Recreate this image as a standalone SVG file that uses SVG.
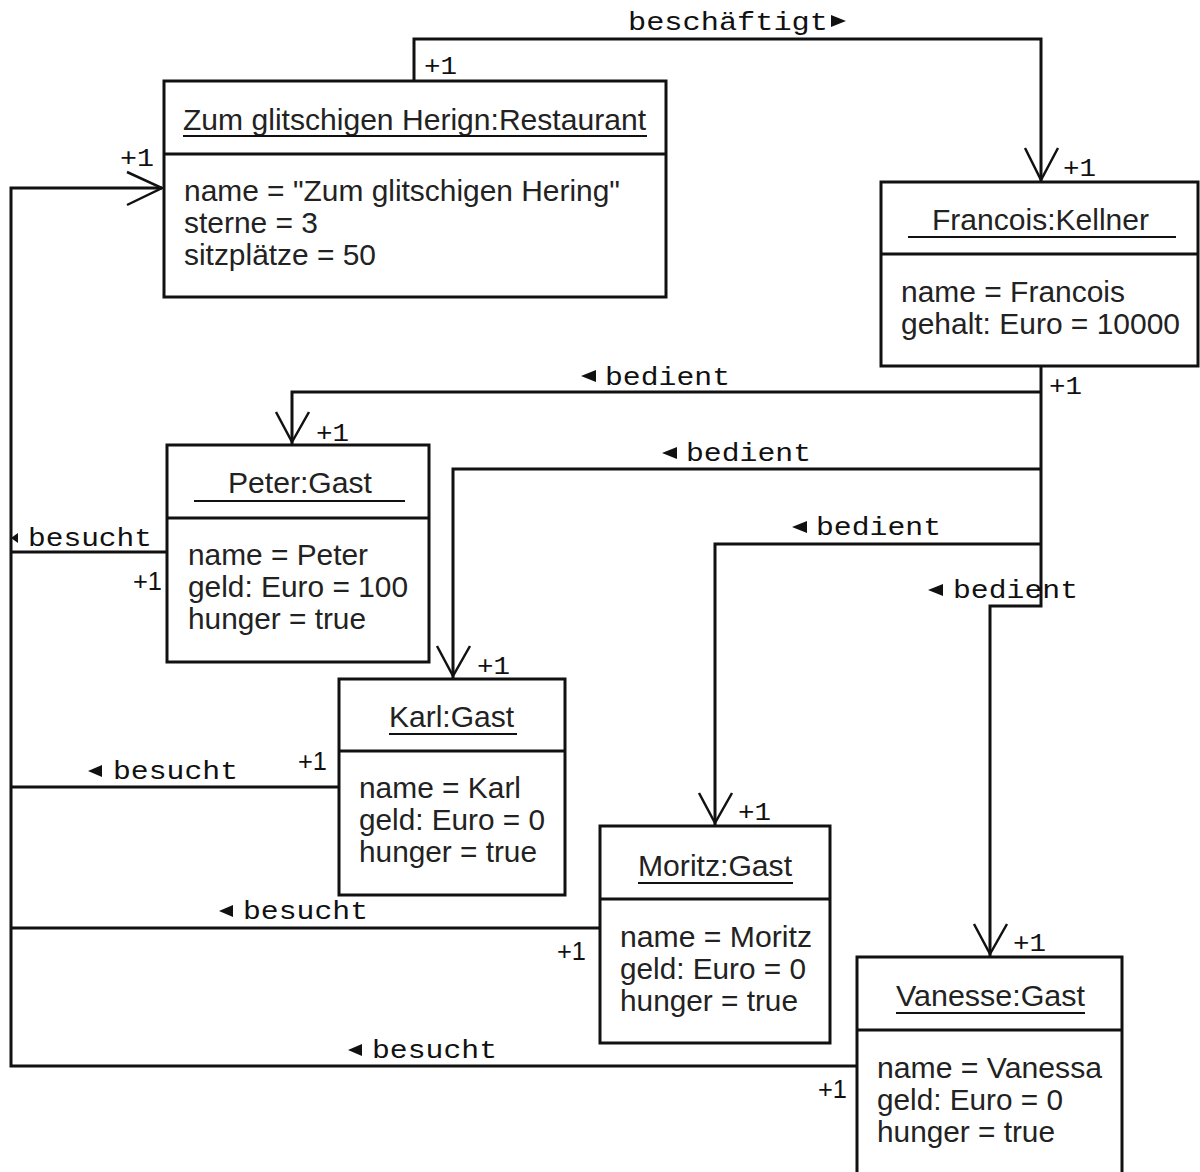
<svg xmlns="http://www.w3.org/2000/svg" width="1200" height="1172" viewBox="0 0 1200 1172">
  <style>
    .box { fill: #fff; stroke: #111; stroke-width: 3; }
    .div { stroke: #111; stroke-width: 3; }
    .ul { stroke: #111; stroke-width: 2; }
    .ln { fill: none; stroke: #111; stroke-width: 3; }
    .head { fill: none; stroke: #111; stroke-width: 2.5; stroke-linejoin: miter; }
    .tri { fill: #111; }
    .t { font-family: "Liberation Sans", Arial, sans-serif; font-size: 30px; fill: #222; }
    .lbl { font-family: "Liberation Mono", "Courier New", monospace; font-size: 26px; fill: #111; }
    .m { font-family: "Liberation Mono", "Courier New", monospace; font-size: 25px; fill: #111; }
    .ms { font-family: "Liberation Sans", Arial, sans-serif; font-size: 26px; fill: #111; }
  </style>

  <!-- connectors -->
  <g id="connectors">
    <!-- beschaeftigt: Restaurant -> Kellner -->
    <polyline class="ln" points="414,81 414,39 1041,39 1041,181"/>
    <polyline class="head" points="1025,148 1041,180 1058,148"/>
    <text class="lbl" x="628" y="30" textLength="200" lengthAdjust="spacingAndGlyphs">beschäftigt</text>
    <polygon class="tri" points="831,15 846,21 831,27"/>
    <text class="m" x="424" y="74" textLength="33" lengthAdjust="spacingAndGlyphs">+1</text>
    <text class="m" x="1063" y="176" textLength="33" lengthAdjust="spacingAndGlyphs">+1</text>

    <!-- bedient: Kellner -> guests -->
    <polyline class="ln" points="1041,366 1041,606 990,606 990,956"/>
    <polyline class="ln" points="1041,392 292,392 292,444"/>
    <polyline class="ln" points="1041,469 453,469 453,678"/>
    <polyline class="ln" points="1041,544 715,544 715,825"/>
    <polyline class="head" points="276,412 292,442 309,412"/>
    <polyline class="head" points="437,646 453,676 470,646"/>
    <polyline class="head" points="699,793 715,823 732,793"/>
    <polyline class="head" points="974,924 990,954 1007,924"/>
    <text class="m" x="1049" y="394" textLength="33" lengthAdjust="spacingAndGlyphs">+1</text>
    <text class="m" x="316" y="441" textLength="33" lengthAdjust="spacingAndGlyphs">+1</text>
    <text class="m" x="477" y="674" textLength="33" lengthAdjust="spacingAndGlyphs">+1</text>
    <text class="m" x="738" y="820" textLength="33" lengthAdjust="spacingAndGlyphs">+1</text>
    <text class="m" x="1013" y="951" textLength="33" lengthAdjust="spacingAndGlyphs">+1</text>

    <polygon class="tri" points="596,370 581,376 596,382"/>
    <text class="lbl" x="605" y="385" textLength="125" lengthAdjust="spacingAndGlyphs">bedient</text>
    <polygon class="tri" points="677,447 662,453 677,459"/>
    <text class="lbl" x="686" y="461" textLength="125" lengthAdjust="spacingAndGlyphs">bedient</text>
    <polygon class="tri" points="807,521 792,527 807,533"/>
    <text class="lbl" x="816" y="535" textLength="125" lengthAdjust="spacingAndGlyphs">bedient</text>
    <polygon class="tri" points="943,584 928,590 943,596"/>
    <text class="lbl" x="953" y="598" textLength="125" lengthAdjust="spacingAndGlyphs">bedient</text>

    <!-- besucht: guests -> Restaurant -->
    <polyline class="ln" points="162,188 11,188 11,1066 857,1066"/>
    <polyline class="ln" points="11,552 167,552"/>
    <polyline class="ln" points="11,787 339,787"/>
    <polyline class="ln" points="11,928 600,928"/>
    <polyline class="head" points="127,172 162,188 127,205"/>
    <text class="m" x="120" y="166" textLength="34" lengthAdjust="spacingAndGlyphs">+1</text>

    <polygon class="tri" points="18,533 11,538 18,543"/>
    <text class="lbl" x="28" y="546" textLength="124" lengthAdjust="spacingAndGlyphs">besucht</text>
    <polygon class="tri" points="102,765 88,771 102,777"/>
    <text class="lbl" x="113" y="779" textLength="125" lengthAdjust="spacingAndGlyphs">besucht</text>
    <polygon class="tri" points="233,905 219,911 233,917"/>
    <text class="lbl" x="243" y="919" textLength="125" lengthAdjust="spacingAndGlyphs">besucht</text>
    <polygon class="tri" points="362,1044 348,1050 362,1056"/>
    <text class="lbl" x="372" y="1058" textLength="125" lengthAdjust="spacingAndGlyphs">besucht</text>

    <text class="ms" x="133" y="590" textLength="29" lengthAdjust="spacingAndGlyphs">+1</text>
    <text class="ms" x="298" y="770" textLength="29" lengthAdjust="spacingAndGlyphs">+1</text>
    <text class="ms" x="557" y="960" textLength="29" lengthAdjust="spacingAndGlyphs">+1</text>
    <text class="ms" x="818" y="1098" textLength="29" lengthAdjust="spacingAndGlyphs">+1</text>
  </g>

  <!-- Restaurant -->
  <g id="restaurant">
    <rect class="box" x="164" y="81" width="502" height="216"/>
    <line class="div" x1="164" y1="154" x2="666" y2="154"/>
    <text class="t" x="183" y="130" textLength="463" lengthAdjust="spacingAndGlyphs">Zum glitschigen Herign:Restaurant</text>
    <line class="ul" x1="183" y1="136" x2="647" y2="136"/>
    <text class="t" x="184" y="201" textLength="436" lengthAdjust="spacingAndGlyphs">name = "Zum glitschigen Hering"</text>
    <text class="t" x="184" y="233" textLength="134" lengthAdjust="spacingAndGlyphs">sterne = 3</text>
    <text class="t" x="184" y="265" textLength="192" lengthAdjust="spacingAndGlyphs">sitzplätze = 50</text>
  </g>

  <!-- Kellner -->
  <g id="francois">
    <rect class="box" x="881" y="182" width="317" height="184"/>
    <line class="div" x1="881" y1="254" x2="1198" y2="254"/>
    <text class="t" x="932" y="230" textLength="217" lengthAdjust="spacingAndGlyphs">Francois:Kellner</text>
    <line class="ul" x1="908" y1="237" x2="1176" y2="237"/>
    <text class="t" x="901" y="302" textLength="224" lengthAdjust="spacingAndGlyphs">name = Francois</text>
    <text class="t" x="901" y="334" textLength="279" lengthAdjust="spacingAndGlyphs">gehalt: Euro = 10000</text>
  </g>

  <!-- Peter -->
  <g id="peter">
    <rect class="box" x="167" y="445" width="262" height="217"/>
    <line class="div" x1="167" y1="518" x2="429" y2="518"/>
    <text class="t" x="228" y="493" textLength="144" lengthAdjust="spacingAndGlyphs">Peter:Gast</text>
    <line class="ul" x1="194" y1="501" x2="405" y2="501"/>
    <text class="t" x="188" y="565" textLength="180" lengthAdjust="spacingAndGlyphs">name = Peter</text>
    <text class="t" x="188" y="597" textLength="220" lengthAdjust="spacingAndGlyphs">geld:  Euro = 100</text>
    <text class="t" x="188" y="629" textLength="178" lengthAdjust="spacingAndGlyphs">hunger = true</text>
  </g>

  <!-- Karl -->
  <g id="karl">
    <rect class="box" x="339" y="679" width="226" height="216"/>
    <line class="div" x1="339" y1="751" x2="565" y2="751"/>
    <text class="t" x="389" y="727" textLength="125" lengthAdjust="spacingAndGlyphs">Karl:Gast</text>
    <line class="ul" x1="389" y1="734" x2="517" y2="734"/>
    <text class="t" x="359" y="798" textLength="162" lengthAdjust="spacingAndGlyphs">name = Karl</text>
    <text class="t" x="359" y="830" textLength="186" lengthAdjust="spacingAndGlyphs">geld:  Euro = 0</text>
    <text class="t" x="359" y="862" textLength="178" lengthAdjust="spacingAndGlyphs">hunger = true</text>
  </g>

  <!-- Moritz -->
  <g id="moritz">
    <rect class="box" x="600" y="826" width="230" height="217"/>
    <line class="div" x1="600" y1="899" x2="830" y2="899"/>
    <text class="t" x="638" y="876" textLength="154" lengthAdjust="spacingAndGlyphs">Moritz:Gast</text>
    <line class="ul" x1="638" y1="883" x2="793" y2="883"/>
    <text class="t" x="620" y="947" textLength="192" lengthAdjust="spacingAndGlyphs">name = Moritz</text>
    <text class="t" x="620" y="979" textLength="186" lengthAdjust="spacingAndGlyphs">geld: Euro = 0</text>
    <text class="t" x="620" y="1011" textLength="178" lengthAdjust="spacingAndGlyphs">hunger = true</text>
  </g>

  <!-- Vanesse -->
  <g id="vanesse">
    <rect class="box" x="857" y="957" width="265" height="230"/>
    <line class="div" x1="857" y1="1030" x2="1122" y2="1030"/>
    <text class="t" x="896" y="1006" textLength="189" lengthAdjust="spacingAndGlyphs">Vanesse:Gast</text>
    <line class="ul" x1="896" y1="1013" x2="1085" y2="1013"/>
    <text class="t" x="877" y="1078" textLength="225" lengthAdjust="spacingAndGlyphs">name = Vanessa</text>
    <text class="t" x="877" y="1110" textLength="186" lengthAdjust="spacingAndGlyphs">geld: Euro = 0</text>
    <text class="t" x="877" y="1142" textLength="178" lengthAdjust="spacingAndGlyphs">hunger = true</text>
  </g>
</svg>
